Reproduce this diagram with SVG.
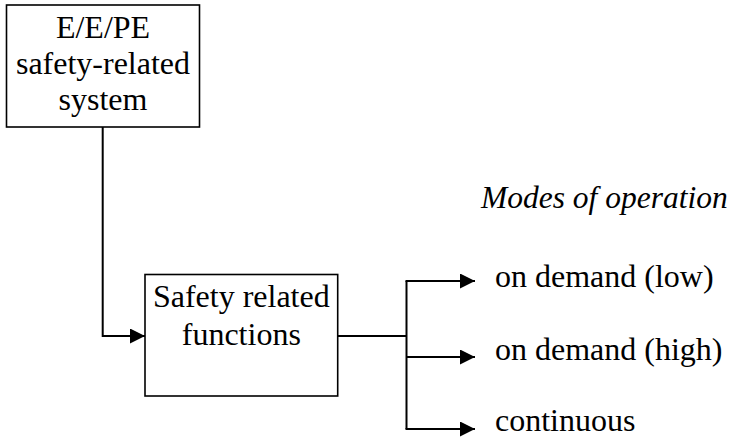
<svg xmlns="http://www.w3.org/2000/svg" width="734" height="438" viewBox="0 0 734 438">
<defs>
<marker id="arr" markerUnits="userSpaceOnUse" markerWidth="16" markerHeight="16" refX="15" refY="7.5" orient="auto">
<path d="M0,0 L15,7.5 L0,15 Z" fill="#000"/>
</marker>
<style>
.box{fill:#fff;stroke:#000;stroke-width:1.6}
.ln{fill:none;stroke:#000;stroke-width:2}
text{font-family:"Liberation Serif","Times New Roman",serif;font-size:32px;fill:#000}
.c{text-anchor:middle}
.it{font-style:italic;font-size:31.5px}
</style>
</defs>
<rect width="734" height="438" fill="#fff"/>
<g id="connectors">
<path class="ln" d="M102.7,127 V336 H145" marker-end="url(#arr)"/>
<path class="ln" d="M337.7,336 H406.5"/>
<path class="ln" d="M406.5,281 V429"/>
<path class="ln" d="M405.5,281 H475" marker-end="url(#arr)"/>
<path class="ln" d="M406.5,357 H475" marker-end="url(#arr)"/>
<path class="ln" d="M405.5,429 H475" marker-end="url(#arr)"/>
</g>
<g id="ee-system">
<rect class="box" x="6.5" y="5" width="193" height="122"/>
<text class="c" x="103" y="38">E/E/PE</text>
<text class="c" x="103" y="74">safety-related</text>
<text class="c" x="103" y="110">system</text>
</g>
<g id="safety-functions">
<rect class="box" x="145" y="274.5" width="192.7" height="121.5"/>
<text class="c" x="241.3" y="307">Safety related</text>
<text class="c" x="241.3" y="345">functions</text>
</g>
<g id="modes-title">
<text class="it" x="481" y="208">Modes of operation</text>
</g>
<g id="mode-low">
<text x="495" y="287">on demand (low)</text>
</g>
<g id="mode-high">
<text x="495" y="360">on demand (high)</text>
</g>
<g id="mode-continuous">
<text x="495" y="431">continuous</text>
</g>
</svg>
